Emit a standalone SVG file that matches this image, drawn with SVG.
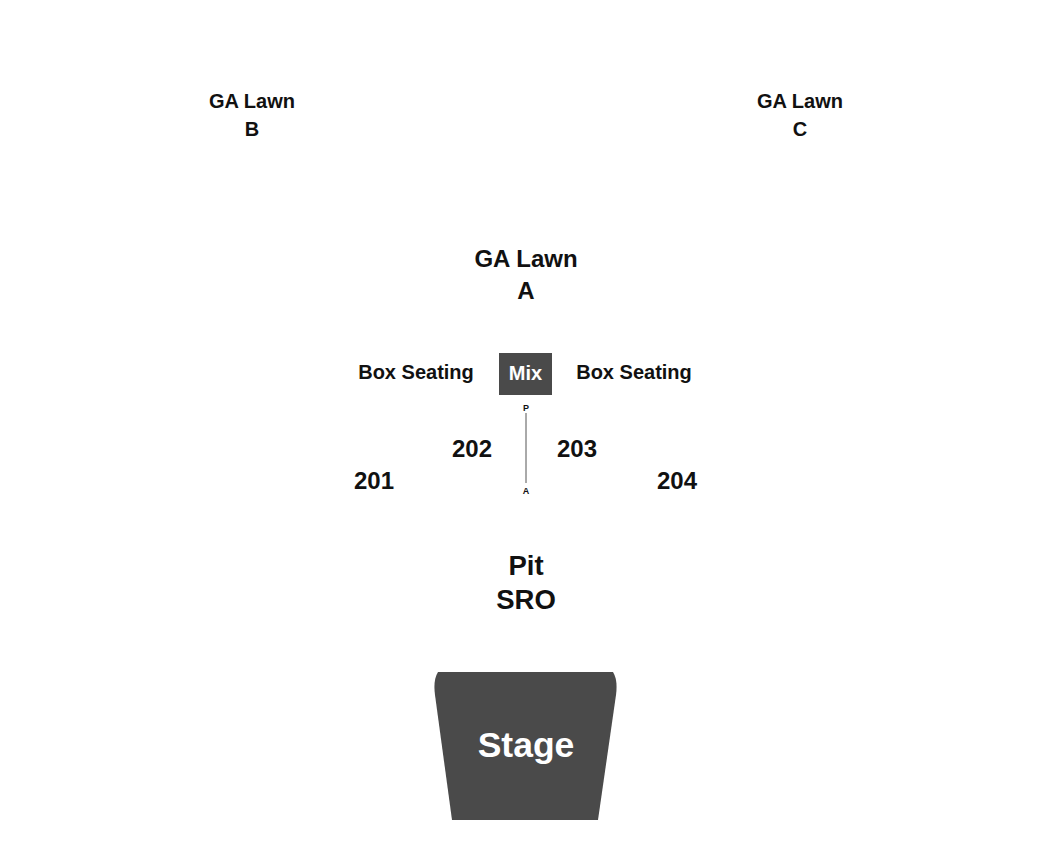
<svg xmlns="http://www.w3.org/2000/svg" width="1050" height="860" viewBox="0 0 1050 860">
<style>
text{font-family:"Liberation Sans",Arial,sans-serif;font-weight:bold;text-anchor:middle;fill:#111}
.s{font-size:20px}
.m{font-size:24px}
.l{font-size:27.5px}
.w{fill:#fff}
</style>
<rect width="1050" height="860" fill="#fff"/>
<g id="lawnB"><text class="s" x="252" y="108">GA Lawn</text><text class="s" x="252" y="136">B</text></g>
<g id="lawnC"><text class="s" x="800" y="108">GA Lawn</text><text class="s" x="800" y="136">C</text></g>
<g id="lawnA"><text class="m" x="526" y="267">GA Lawn</text><text class="m" x="526" y="299">A</text></g>
<g id="boxL"><text class="s" x="416" y="379">Box Seating</text></g>
<g id="boxR"><text class="s" x="634" y="379">Box Seating</text></g>
<g id="mix"><rect x="499" y="353" width="53" height="42" fill="#4a4a4a"/><text class="s w" x="525.5" y="380">Mix</text></g>
<g id="connectors"><line x1="526" y1="413" x2="526" y2="483" stroke="#555" stroke-width="1"/></g>
<g id="pa"><text x="526" y="411" style="font-size:9px">P</text><text x="526" y="494" style="font-size:9px">A</text></g>
<g id="s201"><text class="m" x="374" y="489">201</text></g>
<g id="s202"><text class="m" x="472" y="457">202</text></g>
<g id="s203"><text class="m" x="577" y="457">203</text></g>
<g id="s204"><text class="m" x="677" y="489">204</text></g>
<g id="pit"><text class="l" x="526" y="575">Pit</text><text class="l" x="526" y="609">SRO</text></g>
<g id="stage"><path d="M438,672 L613,672 Q618,680 616,695 L598,820 L452,820 L435,695 Q433,680 438,672 Z" fill="#4a4a4a"/><text class="w" x="526" y="757" style="font-size:35.5px">Stage</text></g>
</svg>
